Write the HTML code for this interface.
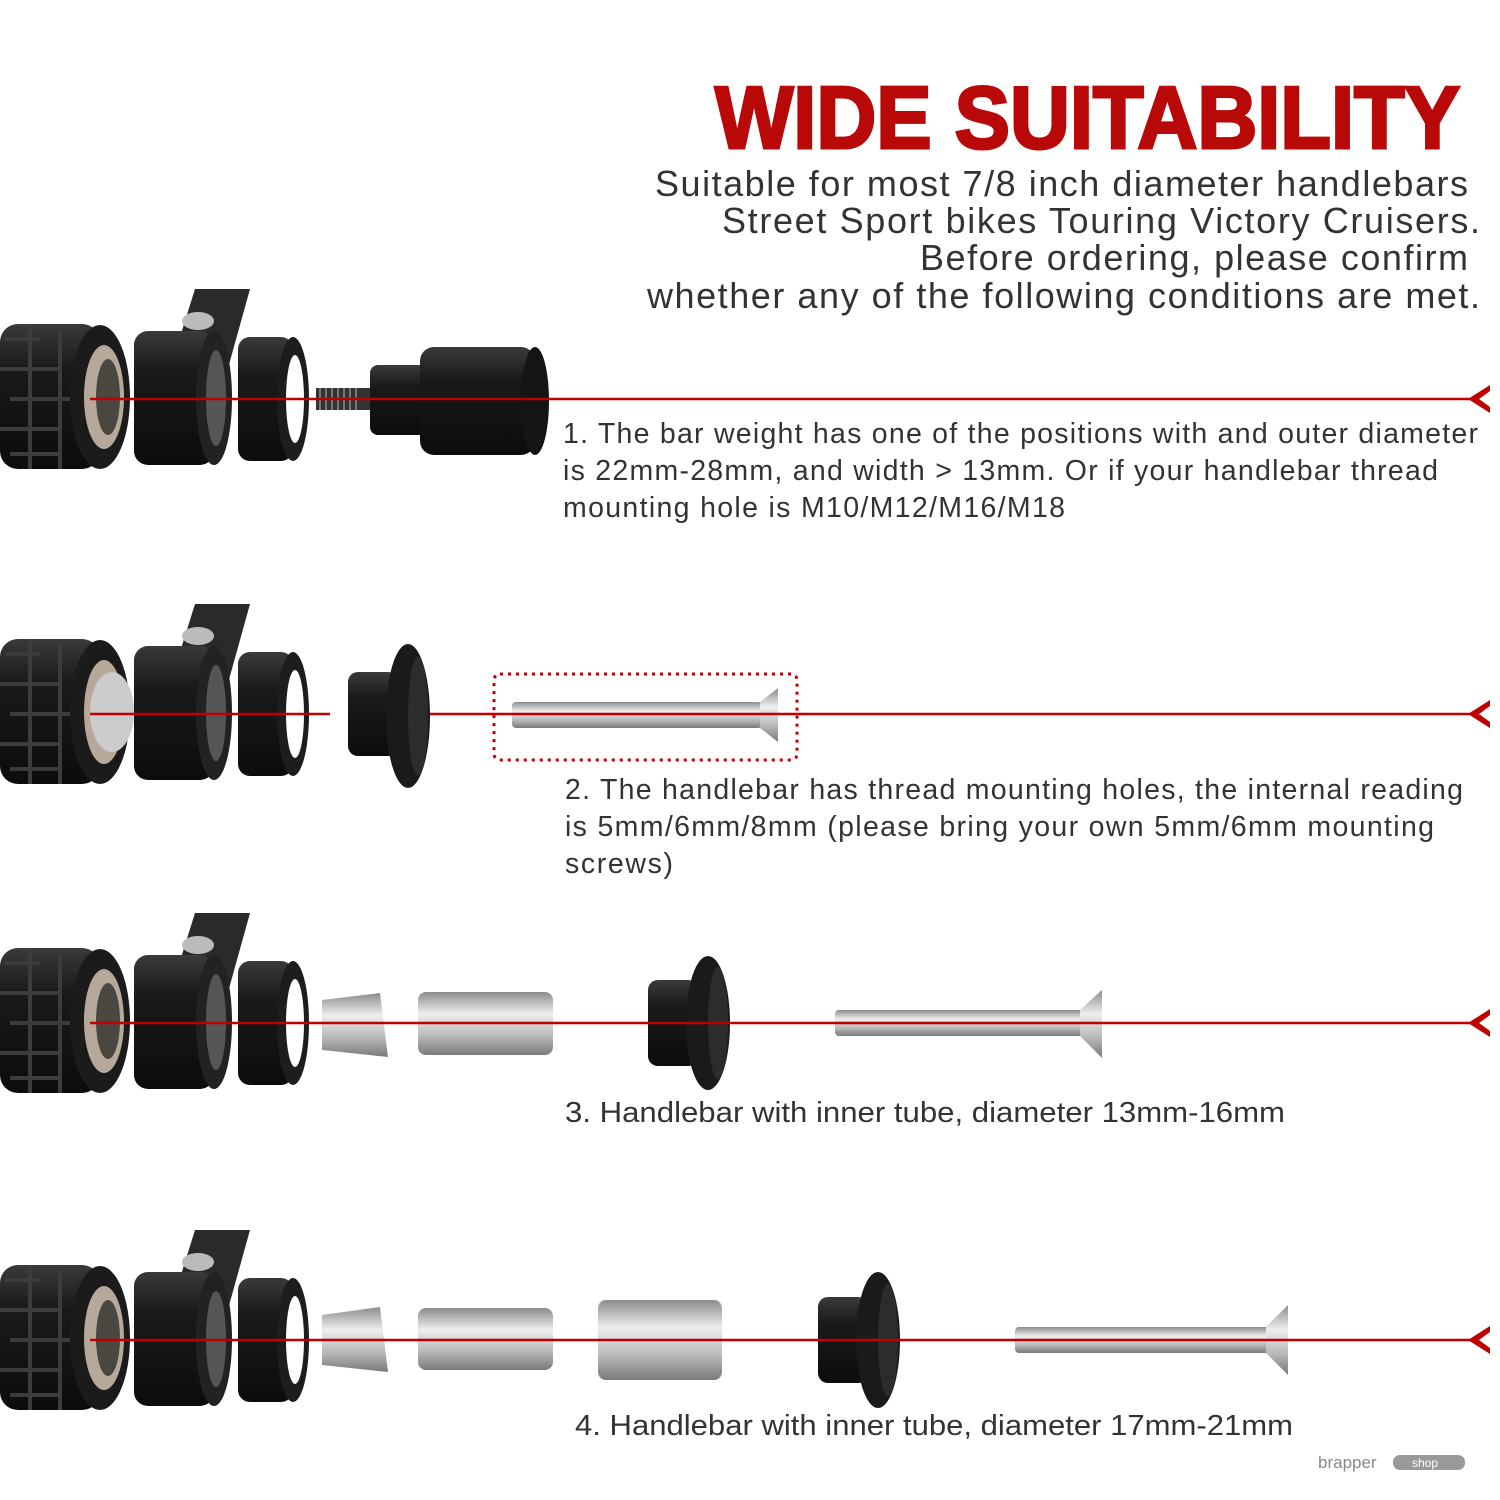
<!DOCTYPE html>
<html><head><meta charset="utf-8"><style>
html,body{margin:0;padding:0;background:#fff;}
svg{display:block;}
text{font-family:"Liberation Sans",Arial,sans-serif;}
</style></head><body>
<svg width="1500" height="1500" viewBox="0 0 1500 1500" xmlns="http://www.w3.org/2000/svg">
<defs>
<linearGradient id="blk" x1="0" y1="0" x2="0" y2="1"><stop offset="0" stop-color="#3a3a3a"/><stop offset=".3" stop-color="#1a1a1a"/><stop offset="1" stop-color="#0c0c0c"/></linearGradient>
<linearGradient id="sil" x1="0" y1="0" x2="0" y2="1"><stop offset="0" stop-color="#8c8c8c"/><stop offset=".35" stop-color="#eeeeee"/><stop offset=".7" stop-color="#b8b8b8"/><stop offset="1" stop-color="#7a7a7a"/></linearGradient>
<g id="left">
  <polygon points="170,-30 195,-110 250,-110 225,-20 215,40 180,40" fill="#2a2a2a"/>
  <ellipse cx="198" cy="-78" rx="16" ry="9" fill="#bbb"/>
  <rect x="0" y="-75" width="100" height="145" rx="18" fill="url(#blk)"/>
  <path d="M5,-60 L40,-60 M0,-30 L60,-30 M10,0 L70,0 M0,30 L60,30 M10,55 L60,55 M30,-75 L30,70 M60,-70 L60,70" stroke="#3c3c3c" stroke-width="4" fill="none"/>
  <ellipse cx="100" cy="-2" rx="30" ry="72" fill="#1b1b1b"/>
  <ellipse cx="104" cy="-2" rx="20" ry="52" fill="#b7a999"/>
  <ellipse cx="108" cy="-2" rx="12" ry="38" fill="#4a4640"/>
  <rect x="134" y="-68" width="80" height="134" rx="14" fill="url(#blk)"/>
  <ellipse cx="214" cy="-1" rx="18" ry="67" fill="#222"/>
  <ellipse cx="216" cy="-1" rx="10" ry="48" fill="#555"/>
  <rect x="238" y="-62" width="55" height="124" rx="12" fill="url(#blk)"/>
  <ellipse cx="293" cy="0" rx="16" ry="62" fill="#1d1d1d"/>
  <ellipse cx="295" cy="0" rx="9" ry="44" fill="#fff"/>
</g>
<g id="chev"><path d="M1490,-14 L1468,0 L1490,14 L1490,8 L1479,0 L1490,-8 Z" fill="#c00000"/></g>
</defs>

<text x="715" y="148" font-size="88" font-weight="900" fill="#b80808" stroke="#b80808" stroke-width="3" textLength="745" lengthAdjust="spacingAndGlyphs">WIDE SUITABILITY</text>
<g font-size="36" fill="#333" lengthAdjust="spacingAndGlyphs">
<text x="655" y="196" textLength="813">Suitable for most 7/8 inch diameter handlebars</text>
<text x="722" y="233" textLength="758">Street Sport bikes Touring Victory Cruisers.</text>
<text x="920" y="270" textLength="548">Before ordering, please confirm</text>
<text x="647" y="308" textLength="833">whether any of the following conditions are met.</text>
</g>

<!-- Row 1 -->
<g transform="translate(0,399)"><use href="#left"/></g>
<rect x="316" y="388" width="62" height="22" fill="#333"/>
<path d="M320,388v22M326,388v22M332,388v22M338,388v22M344,388v22M350,388v22M356,388v22" stroke="#777" stroke-width="2"/>
<rect x="370" y="365" width="60" height="70" rx="8" fill="url(#blk)"/>
<rect x="420" y="347" width="115" height="108" rx="14" fill="url(#blk)"/>
<ellipse cx="535" cy="401" rx="14" ry="54" fill="#151515"/>
<line x1="90" y1="399" x2="1478" y2="399" stroke="#c00000" stroke-width="2.5"/>
<use href="#chev" transform="translate(0,399)"/>
<g font-size="28.5" fill="#333" lengthAdjust="spacingAndGlyphs">
<text x="563" y="443" textLength="915">1. The bar weight has one of the positions with and outer diameter</text>
<text x="563" y="480" textLength="875">is 22mm-28mm, and width &gt; 13mm. Or if your handlebar thread</text>
<text x="563" y="517" textLength="502">mounting hole is M10/M12/M16/M18</text>
</g>

<!-- Row 2 -->
<g transform="translate(0,714)"><use href="#left"/></g>
<ellipse cx="112" cy="712" rx="22" ry="40" fill="#ccc"/>
<rect x="348" y="672" width="50" height="84" rx="10" fill="url(#blk)"/>
<ellipse cx="408" cy="716" rx="22" ry="72" fill="#1a1a1a"/>
<ellipse cx="418" cy="716" rx="10" ry="60" fill="#2c2c2c"/>
<rect x="494" y="674" width="303" height="86" rx="6" fill="none" stroke="#c00000" stroke-width="3" stroke-dasharray="3,5"/>
<rect x="512" y="702" width="250" height="26" rx="4" fill="url(#sil)"/>
<polygon points="760,702 778,688 778,742 760,728" fill="url(#sil)"/>
<line x1="430" y1="714" x2="1478" y2="714" stroke="#c00000" stroke-width="2.5"/>
<line x1="90" y1="714" x2="330" y2="714" stroke="#c00000" stroke-width="2.5"/>
<use href="#chev" transform="translate(0,714)"/>
<g font-size="28.5" fill="#333" lengthAdjust="spacingAndGlyphs">
<text x="565" y="799" textLength="898">2. The handlebar has thread mounting holes, the internal reading</text>
<text x="565" y="836" textLength="869">is 5mm/6mm/8mm (please bring your own 5mm/6mm mounting</text>
<text x="565" y="873" textLength="108">screws)</text>
</g>

<!-- Row 3 -->
<g transform="translate(0,1023)"><use href="#left"/></g>
<polygon points="322,1000 380,993 388,1057 322,1050" fill="url(#sil)"/>
<rect x="418" y="992" width="135" height="63" rx="8" fill="url(#sil)"/>
<rect x="648" y="980" width="50" height="86" rx="10" fill="url(#blk)"/>
<ellipse cx="708" cy="1023" rx="22" ry="67" fill="#1a1a1a"/>
<ellipse cx="718" cy="1023" rx="10" ry="56" fill="#2c2c2c"/>
<rect x="835" y="1010" width="250" height="26" rx="4" fill="url(#sil)"/>
<polygon points="1080,1010 1102,990 1102,1058 1080,1036" fill="url(#sil)"/>
<line x1="90" y1="1023" x2="1478" y2="1023" stroke="#c00000" stroke-width="2.5"/>
<use href="#chev" transform="translate(0,1023)"/>
<text x="565" y="1122" font-size="28.5" fill="#333" textLength="720" lengthAdjust="spacingAndGlyphs">3. Handlebar with inner tube, diameter 13mm-16mm</text>

<!-- Row 4 -->
<g transform="translate(0,1340)"><use href="#left"/></g>
<polygon points="322,1315 380,1307 388,1372 322,1365" fill="url(#sil)"/>
<rect x="418" y="1308" width="135" height="62" rx="8" fill="url(#sil)"/>
<rect x="598" y="1300" width="124" height="80" rx="8" fill="url(#sil)"/>
<rect x="818" y="1297" width="50" height="86" rx="10" fill="url(#blk)"/>
<ellipse cx="878" cy="1340" rx="22" ry="68" fill="#1a1a1a"/>
<ellipse cx="888" cy="1340" rx="10" ry="56" fill="#2c2c2c"/>
<rect x="1015" y="1327" width="255" height="26" rx="4" fill="url(#sil)"/>
<polygon points="1266,1327 1288,1305 1288,1375 1266,1353" fill="url(#sil)"/>
<line x1="90" y1="1340" x2="1478" y2="1340" stroke="#c00000" stroke-width="2.5"/>
<use href="#chev" transform="translate(0,1340)"/>
<text x="575" y="1435" font-size="28.5" fill="#333" textLength="718" lengthAdjust="spacingAndGlyphs">4. Handlebar with inner tube, diameter 17mm-21mm</text>

<text x="1318" y="1468" font-size="17" fill="#888">brapper</text>
<rect x="1393" y="1455" width="72" height="15" rx="7" fill="#999"/>
<text x="1412" y="1467" font-size="12" fill="#fff">shop</text>
</svg>
</body></html>
